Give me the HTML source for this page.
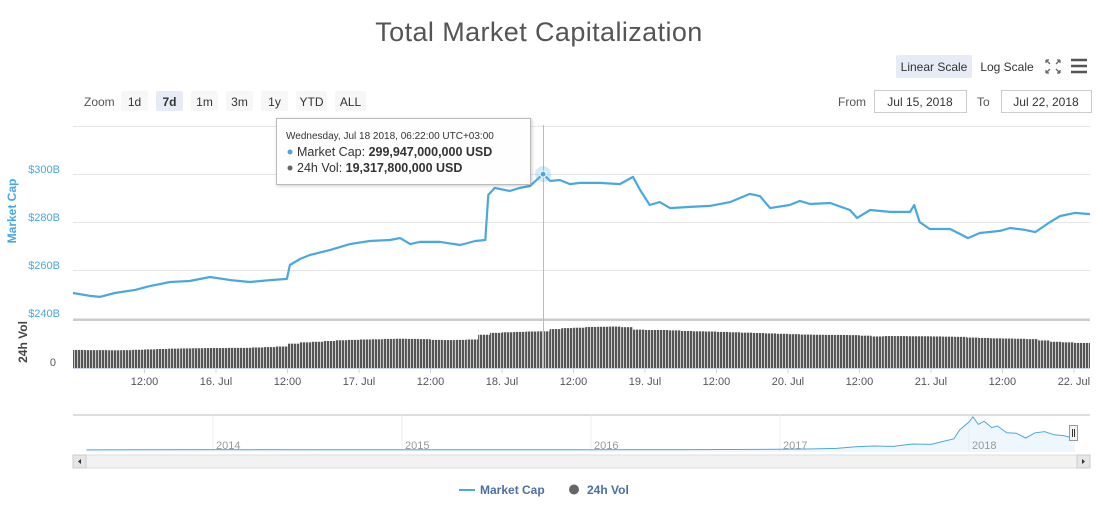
<!DOCTYPE html>
<html><head><meta charset="utf-8"><style>
body{margin:0;background:#fff;font-family:"Liberation Sans",sans-serif;}
svg text{font-family:"Liberation Sans",sans-serif;}
</style></head><body>
<svg width="1103" height="506" viewBox="0 0 1103 506" xmlns="http://www.w3.org/2000/svg">
<defs>
<pattern id="stripes" width="3" height="10" patternUnits="userSpaceOnUse"><rect width="2.3" height="10" fill="#555"/></pattern>
<filter id="sh" x="-10%" y="-10%" width="120%" height="130%"><feDropShadow dx="1" dy="1" stdDeviation="1.5" flood-opacity="0.2"/></filter>
</defs>
<text x="539" y="41" text-anchor="middle" font-size="27" letter-spacing="0.4" fill="#555">Total Market Capitalization</text>

<rect x="896" y="55" width="76" height="23" rx="2" fill="#e6ebf5"/>
<text x="934" y="71" text-anchor="middle" font-size="12" fill="#333">Linear Scale</text>
<text x="1007" y="71" text-anchor="middle" font-size="12" fill="#333">Log Scale</text>
<g stroke="#666" stroke-width="1.3" fill="none">
<path d="M1046 60l4 4M1046 60h3M1046 60v3M1060 60l-4 4M1060 60h-3M1060 60v3M1046 73l4-4M1046 73h3M1046 73v-3M1060 73l-4-4M1060 73h-3M1060 73v-3"/></g>
<g stroke="#555" stroke-width="2.5"><path d="M1071 60h16M1071 66h16M1071 72h16"/></g>

<text x="84" y="106" font-size="12" fill="#555">Zoom</text>
<g id="zoomBtns"></g>
<text x="838" y="106" font-size="12" fill="#555">From</text>
<rect x="874.5" y="90.5" width="92" height="22" fill="#fff" stroke="#ccc"/>
<text x="920" y="106" text-anchor="middle" font-size="12" fill="#333">Jul 15, 2018</text>
<text x="977" y="106" font-size="12" fill="#555">To</text>
<rect x="1001.5" y="90.5" width="90" height="22" fill="#fff" stroke="#ccc"/>
<text x="1046" y="106" text-anchor="middle" font-size="12" fill="#333">Jul 22, 2018</text>

<g id="grid"></g>
<g id="vol"></g>
<g id="main"></g>
<g id="xaxis"></g>
<text transform="translate(16,211) rotate(-90)" text-anchor="middle" font-size="12" font-weight="bold" fill="#4aa8e0">Market Cap</text>
<text transform="translate(27,342) rotate(-90)" text-anchor="middle" font-size="12" font-weight="bold" fill="#444">24h Vol</text>
<text x="56" y="366" text-anchor="end" font-size="11" fill="#555">0</text>

<line x1="543.5" y1="125" x2="543.5" y2="368" stroke="#bbb"/>
<circle id="hoverHalo" r="8" fill="#4aa8e0" opacity="0.25"/>
<circle id="hoverPt" r="3" fill="#4aa8e0" stroke="#fff"/>
<g>
<rect x="276.5" y="118.5" width="254" height="66" fill="#fff" fill-opacity="0.96" stroke="#bbb" filter="url(#sh)"/>
<text x="286" y="139" font-size="10" fill="#333">Wednesday, Jul 18 2018, 06:22:00 UTC+03:00</text>
<circle cx="290" cy="152" r="2.5" fill="#4aa8e0"/>
<text x="297" y="156" font-size="12.5" fill="#333">Market Cap: <tspan font-weight="bold">299,947,000,000 USD</tspan></text>
<circle cx="290" cy="168" r="2.5" fill="#666"/>
<text x="297" y="172" font-size="12.5" fill="#333">24h Vol: <tspan font-weight="bold">19,317,800,000 USD</tspan></text>
</g>

<g id="nav"></g>
<g>
<rect x="73" y="455" width="1017" height="13" fill="#f2f2f2" stroke="#ddd"/>
<rect x="73" y="455" width="13" height="13" fill="#e6e6e6" stroke="#ccc"/>
<path d="M81 459v5l-3-2.5z" fill="#333"/>
<rect x="1077" y="455" width="13" height="13" fill="#e6e6e6" stroke="#ccc"/>
<path d="M1082 459v5l3-2.5z" fill="#333"/>
</g>
<rect x="1069.5" y="425.5" width="8" height="15" fill="#f2f2f2" stroke="#999"/>
<path d="M1072.5 429v8M1074.5 429v8" stroke="#333"/>

<g>
<line x1="459" y1="490" x2="475" y2="490" stroke="#4aa8e0" stroke-width="2"/>
<text x="480" y="494" font-size="12" font-weight="bold" fill="#4a6fa5">Market Cap</text></g>
<g>
<circle cx="574" cy="489.5" r="5" fill="#666"/>
<text x="587" y="494" font-size="12" font-weight="bold" fill="#4a6fa5">24h Vol</text></g>
</svg>
<script>
const capHours=[0,2.9,4.5,7,10.4,12.9,16.3,19.6,23,26.4,29.7,33.1,35.9,36.4,38.1,39.8,43.1,46.5,49.8,53.2,54.9,56.6,58.2,61.6,65,67.5,69.2,69.7,70.8,73.3,75,76.7,78.9,80.1,81.7,83.4,85.1,88.4,91.8,94,95.2,96.8,98.5,100.2,103.6,106.9,110.3,113.6,115.3,117,120.3,122,123.7,127.1,130.4,131.6,133.8,137.1,140.5,141.2,142.1,143.8,147.2,148.9,150.2,152.2,155.6,157.3,159.8,161.5,164,165.7,168.2,170.7];
const capValues=[250.4,249.2,248.8,250.4,251.7,253.3,255,255.4,257.1,255.8,255,255.8,256.3,262.1,264.6,266.3,268.3,270.8,272.1,272.5,273.3,270.8,271.7,271.7,270.4,272.1,272.5,291.3,294.2,292.9,294.2,295,300,297.1,297.5,295.8,296.3,296.3,295.8,298.8,293.3,287.1,288.3,285.8,286.3,286.7,288.3,291.7,290.8,285.8,287.1,288.8,287.5,287.9,285,281.7,285,284.2,284.2,287.1,280,277.1,277.1,275,273.3,275.4,276.3,277.5,276.7,275.8,280,282.5,283.8,283.3];
const volValues=[9.5,9.4,9.4,9.3,9.4,9.6,9.8,10,10.2,10.3,10.4,10.5,10.5,10.6,10.6,10.8,11,11.3,12.8,13.5,13.8,14.2,14.6,14.8,15,15.1,15.3,15.4,15.3,15.2,14.8,14.7,14.8,15,17.5,18.5,18.8,19,19.2,19.3,20.5,21,21.2,21.6,21.7,21.8,21.5,20.2,20,20,19.8,19.5,19.3,19.2,19,18.8,18.6,18.4,18.2,18,17.8,17.6,17.5,17.4,17.4,17.3,17,16.6,16.8,16.8,16.7,16.7,16.6,16.5,16.4,16,15.8,15.6,15.5,15.4,15.2,14.5,13.8,13.5,13.2,13.2];
const yTicks=[240,260,280,300,320];
const yTickLabels=["$240B","$260B","$280B","$300B",""];
const xTickHours=[12,24,36,48,60,72,84,96,108,120,132,144,156,168];
const xTickLabels=["12:00","16. Jul","12:00","17. Jul","12:00","18. Jul","12:00","19. Jul","12:00","20. Jul","12:00","21. Jul","12:00","22. Jul"];
const zoomLabels=["1d","7d","1m","3m","1y","YTD","ALL"];
const navYears=[2013.33,2014,2014.5,2015,2015.5,2016,2016.5,2017,2017.15,2017.3,2017.4,2017.5,2017.6,2017.7,2017.8,2017.85,2017.92,2017.95,2018.0,2018.02,2018.05,2018.08,2018.12,2018.15,2018.2,2018.25,2018.3,2018.35,2018.4,2018.45,2018.5,2018.55,2018.56];
const navValues=[2,10,6,5,5,7,9,17,25,40,80,100,90,150,140,200,280,500,700,830,640,720,560,600,430,420,300,430,460,380,360,300,290];
const navYearTicks=[2014,2015,2016,2017,2018];
const hover={h:78.9,v:299.947};

const NS="http://www.w3.org/2000/svg";
function mk(t,a,p){const e=document.createElementNS(NS,t);for(const k in a)e.setAttribute(k,a[k]);p.appendChild(e);return e;}
const X0=73,X1=1090,H1=170.7;
const x=h=>X0+h/H1*(X1-X0);
const y=v=>318-(v-240)*2.4;
const yv=v=>368-v*1.9;
const xn=yr=>213+(yr-2014)*189;
const yn=v=>450-v*0.04;

const grid=document.getElementById('grid');
yTicks.forEach((t,i)=>{
 const l=mk('line',{x1:X0,x2:X1,y1:y(t)+0.5,y2:y(t)+0.5,stroke:'#e6e6e6'},grid);
 
 
 if(yTickLabels[i]){const tx=mk('text',{x:60,y:y(t)-1,'text-anchor':'end','font-size':11,fill:'#4aa8e0'},grid);tx.textContent=yTickLabels[i];
 
 }
});
mk('line',{x1:X0,x2:X1,y1:320,y2:320,stroke:'#ccc','stroke-width':2},grid);
mk('line',{x1:X0,x2:X1,y1:368.5,y2:368.5,stroke:'#ccd6eb'},grid);

const vol=document.getElementById('vol');
volValues.forEach((v,i)=>{
 const xa=x(i*2),xb=Math.min(x(i*2+2),X1);
 if(xb<=xa)return;
 const r=mk('rect',{x:xa,y:yv(v),width:xb-xa,height:368-yv(v),fill:'url(#stripes)'},vol);
 
 
});

const main=document.getElementById('main');
const p=mk('path',{d:capHours.map((h,i)=>(i?'L':'M')+x(h).toFixed(1)+' '+y(capValues[i]).toFixed(1)).join(''),fill:'none',stroke:'#4aa8e0','stroke-width':2.2,'stroke-linejoin':'round'},main);


['hoverHalo','hoverPt'].forEach(id=>{const c=document.getElementById(id);c.setAttribute('cx',x(hover.h));c.setAttribute('cy',y(hover.v));});

const xa=document.getElementById('xaxis');
xTickHours.forEach((h,i)=>{
 mk('line',{x1:x(h),x2:x(h),y1:368,y2:373,stroke:'#ccd6eb'},xa);
 const t=mk('text',{x:x(h),y:385,'text-anchor':'middle','font-size':11,fill:'#555'},xa);t.textContent=xTickLabels[i];
 
 
});

const zb=document.getElementById('zoomBtns');
let bx=121;
zoomLabels.forEach((z,i)=>{
 const w=z.length>2?31:27;
 const r=mk('rect',{x:bx,y:91,width:w,height:20,rx:2,fill:i==1?'#e6ebf5':'#f7f7f7'},zb);
 
 
 const t=mk('text',{x:bx+w/2,y:106,'text-anchor':'middle','font-size':12,fill:'#333','font-weight':i==1?'bold':'normal'},zb);t.textContent=z;
 bx+=w+8;
});

const nav=document.getElementById('nav');
const pts=navYears.map((yr,i)=>xn(yr).toFixed(1)+' '+yn(navValues[i]).toFixed(1));
mk('path',{d:'M'+pts.join('L')+'L'+xn(navYears[navYears.length-1])+' 452L'+xn(navYears[0])+' 452Z',fill:'#eef7fd'},nav);
mk('line',{x1:X0,x2:X1,y1:415,y2:415,stroke:'#ddd','stroke-width':2},nav);
navYearTicks.forEach(yr=>{
 mk('line',{x1:xn(yr),x2:xn(yr),y1:415,y2:452,stroke:'#eee'},nav);
 const t=mk('text',{x:xn(yr)+3,y:449,'font-size':11,fill:'#999'},nav);t.textContent=String(yr);
 
 
});
const nl=mk('path',{d:'M'+pts.join('L'),fill:'none',stroke:'#4aa8e0','stroke-width':1},nav);


</script>
</body></html>
